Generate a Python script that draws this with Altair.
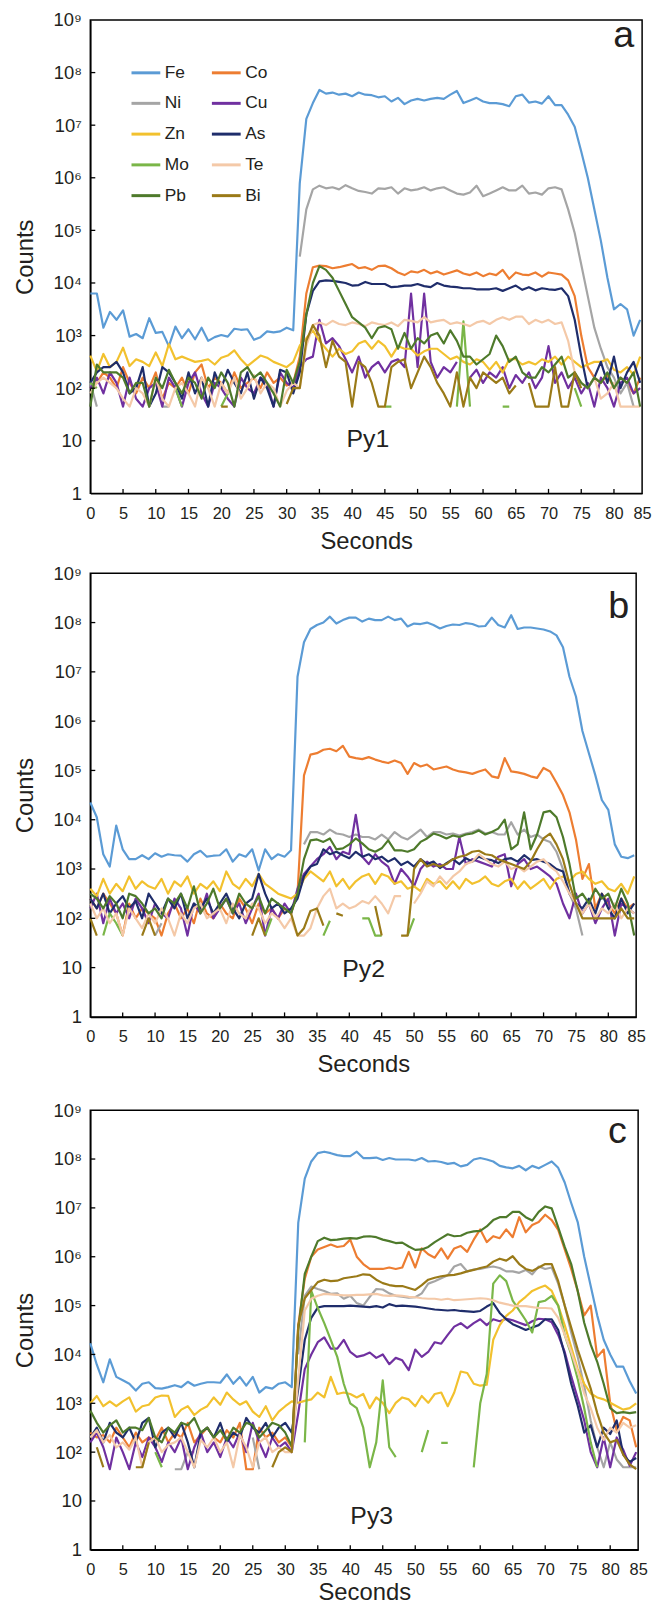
import altair as alt
import pandas as pd

N = None
ELEMENTS = ["Fe", "Co", "Ni", "Cu", "Zn", "As", "Mo", "Te", "Pb", "Bi"]
COLORS = ["#5B9BD5", "#ED7D31", "#A5A5A5", "#7030A0", "#F2C12E",
          "#1F2D6B", "#7AB648", "#F4C9A8", "#4E7A2B", "#9A7A18"]
TIME = list(range(85))                      # seconds
X_LABEL_VALUES = [0, 5, 10, 15, 20, 25, 30, 35, 40, 45, 50, 55, 60, 65, 70, 75, 80, 84.3]
X_TICK_MARKS = [5, 10, 15, 20, 25, 30, 35, 40, 45, 50, 55, 60, 65, 70, 75, 80]
Y_LABEL_VALUES = [1, 10, 1e2, 1e3, 1e4, 1e5, 1e6, 1e7, 1e8, 1e9]
Y_TICK_MARKS = [10, 1e2, 1e3, 1e4, 1e5, 1e6, 1e7, 1e8]

# values are log10(counts); None = no counts (gap)
# ---------------- Py1 (panel a) ----------------
FE_A = [3.80,3.80,3.15,3.45,3.30,3.48,2.98,3.03,2.95,3.33,
        3.05,3.07,2.80,3.17,2.95,3.12,2.93,3.15,2.90,2.97,
        3.01,2.98,3.13,3.11,3.12,2.92,2.97,3.08,3.06,3.08,
        3.15,3.10,5.90,7.12,7.42,7.67,7.60,7.62,7.58,7.60,
        7.55,7.62,7.58,7.57,7.53,7.55,7.45,7.52,7.40,7.47,
        7.50,7.47,7.50,7.52,7.50,7.58,7.65,7.42,7.47,7.52,
        7.45,7.42,7.42,7.40,7.36,7.55,7.58,7.43,7.45,7.41,
        7.55,7.38,7.38,7.20,6.97,6.50,6.00,5.40,4.80,4.10,
        3.50,3.60,3.50,3.00,3.30]
CO_A = [2.0,2.1,2.3,2.2,2.0,2.4,2.1,1.9,2.2,2.0,
        2.3,1.8,2.1,2.0,2.2,1.9,2.3,2.45,2.0,2.2,
        2.1,1.9,2.3,2.0,2.1,2.2,2.0,2.3,2.1,2.2,
        2.05,2.1,2.6,3.8,4.3,4.33,4.32,4.28,4.30,4.33,
        4.36,4.28,4.30,4.25,4.32,4.33,4.28,4.20,4.15,4.22,
        4.20,4.25,4.18,4.22,4.16,4.20,4.24,4.18,4.15,4.20,
        4.13,4.18,4.15,4.25,4.08,4.20,4.16,4.15,4.20,4.12,
        4.20,4.18,4.16,4.05,3.75,3.0,2.4,2.2,2.1,2.25,
        2.0,2.2,2.1,1.9,2.2]
NI_A = [2.1,1.65,N,N,N,N,N,N,N,N,
        N,1.65,1.65,N,N,N,N,N,N,N,
        N,N,N,N,N,N,N,N,N,N,
        N,N,4.5,5.4,5.78,5.85,5.80,5.82,5.78,5.86,
        5.80,5.75,5.73,5.70,5.80,5.79,5.82,5.70,5.80,5.76,
        5.78,5.82,5.76,5.80,5.82,5.76,5.70,5.68,5.72,5.85,
        5.65,5.70,5.76,5.82,5.76,5.76,5.85,5.70,5.72,5.68,
        5.80,5.82,5.78,5.40,4.95,4.35,3.75,3.15,2.75,2.4,
        2.2,1.9,2.1,1.65,N]
CU_A = [2.0,2.2,1.9,2.3,2.1,1.65,2.2,1.8,1.65,2.0,
        2.1,1.65,2.2,2.0,1.65,2.1,2.3,1.9,1.65,2.1,
        2.0,1.8,1.65,2.2,2.0,1.9,2.2,2.1,1.65,2.3,
        2.1,2.0,2.4,2.55,2.6,3.3,2.85,2.95,2.8,2.55,
        2.3,2.6,2.2,2.4,2.5,2.3,2.5,2.55,2.4,3.8,
        2.4,3.8,2.5,2.2,2.4,2.3,2.5,N,2.2,2.35,
        2.1,2.3,2.2,2.4,2.0,2.25,2.1,2.3,2.0,2.2,
        2.8,2.1,2.3,2.0,2.2,1.9,2.1,1.65,2.2,2.0,
        1.65,2.1,2.2,1.9,2.0]
ZN_A = [2.62,2.32,2.65,2.4,2.5,2.77,2.42,2.55,2.5,2.42,
        2.68,2.42,2.84,2.55,2.6,2.55,2.5,2.52,2.55,2.45,
        2.58,2.62,2.72,2.55,2.42,2.52,2.62,2.58,2.5,2.45,
        2.4,2.5,2.81,2.95,3.1,2.9,2.75,2.6,2.75,2.65,
        2.7,2.85,2.9,2.75,2.9,2.8,2.6,2.8,2.75,2.75,
        2.62,2.7,2.75,2.75,2.65,2.55,2.6,2.5,2.45,2.55,
        2.5,2.35,2.5,2.3,2.55,2.55,2.45,2.5,2.45,2.55,
        2.5,2.6,2.45,2.6,2.5,2.4,2.45,2.5,2.5,2.55,
        2.35,2.3,2.4,2.25,2.6]
AS_A = [2.1,2.3,2.4,2.4,2.5,2.3,1.9,2.0,2.4,1.65,
        1.9,2.4,2.3,2.1,1.8,2.3,1.9,2.2,1.65,2.3,
        2.0,2.35,2.1,1.9,2.3,1.8,2.2,2.0,1.65,2.35,
        2.3,1.9,2.3,3.4,3.85,4.03,4.05,4.04,4.02,4.00,
        3.95,3.96,4.02,3.98,3.98,3.98,3.92,3.93,3.95,3.95,
        3.98,3.94,3.92,4.00,3.95,3.93,3.92,3.90,3.90,3.88,
        3.88,3.88,3.90,3.85,3.90,3.95,3.87,3.92,3.86,3.90,
        3.88,3.87,3.90,3.75,3.3,2.6,2.0,2.2,2.5,2.1,
        2.6,2.0,2.3,2.5,2.1]
MO_A = [2.1,2.0,N,N,N,N,N,N,N,N,
        N,N,N,2.0,1.65,N,N,N,N,N,
        1.65,1.9,N,N,N,N,N,N,N,N,
        N,N,N,N,N,N,N,N,N,N,
        N,N,N,N,N,1.65,1.65,N,N,N,
        N,N,N,N,N,N,1.65,3.27,1.65,N,
        N,N,N,1.65,1.65,N,N,N,N,N,
        N,N,N,N,2.0,1.65,N,N,N,N,
        N,N,N,N,N]
TE_A = [1.9,2.1,2.2,2.1,2.0,1.8,1.65,2.0,1.9,1.65,
        2.2,1.8,1.65,2.0,2.1,1.9,1.65,2.2,2.0,1.65,
        2.1,1.9,2.2,1.8,2.0,2.25,1.9,2.1,2.0,1.65,
        1.95,2.1,2.0,2.8,3.2,3.25,3.20,3.28,3.22,3.20,
        3.25,3.22,3.18,3.25,3.22,3.20,3.25,3.18,3.30,3.28,
        3.25,3.35,3.25,3.28,3.30,3.22,3.25,3.22,3.18,3.25,
        3.28,3.22,3.30,3.35,3.30,3.36,3.36,3.22,3.30,3.25,
        3.30,3.22,3.25,2.9,2.3,2.1,2.0,2.2,1.8,1.9,
        2.1,1.65,1.65,1.65,1.65]
PB_A = [1.65,2.45,2.3,2.3,2.3,2.2,1.9,2.1,2.1,1.65,
        2.2,2.0,2.35,2.1,1.9,2.2,2.1,1.8,2.2,2.0,
        2.3,2.1,1.65,2.3,2.4,2.2,2.3,2.1,1.9,1.65,
        2.35,2.1,2.5,3.4,4.0,4.32,4.25,4.1,3.85,3.6,
        3.35,3.25,3.15,2.95,3.15,3.18,3.12,2.75,3.05,2.75,
        2.95,2.85,3.0,3.05,2.85,3.1,2.9,2.6,2.6,2.45,
        2.55,2.65,3.0,2.8,2.5,2.6,2.3,2.2,2.2,2.4,
        2.3,2.45,2.6,2.2,2.3,2.1,2.0,2.2,2.1,2.3,
        2.0,2.2,2.1,2.3,1.65]
BI_A = [N,N,N,N,N,N,N,N,N,N,
        N,N,N,N,N,N,N,N,N,N,
        1.65,1.65,N,N,N,N,N,N,N,N,
        1.7,2.0,2.0,2.9,3.2,3.0,2.4,2.9,2.6,2.5,
        1.65,2.5,2.4,2.1,1.65,1.65,2.4,2.5,2.55,2.0,
        2.3,2.6,2.4,2.1,1.9,1.65,2.3,1.65,2.2,2.0,
        2.3,2.2,2.1,2.2,1.9,2.05,N,2.1,1.65,1.65,
        1.65,2.4,1.65,1.65,2.3,2.0,N,N,N,N,
        N,N,N,N,N]

# ---------------- Py2 (panel b) ----------------
FE_B = [4.35,4.05,3.3,3.05,3.88,3.4,3.2,3.2,3.28,3.2,
        3.32,3.25,3.3,3.28,3.27,3.15,3.3,3.37,3.25,3.27,
        3.28,3.4,3.15,3.3,3.25,3.4,2.97,3.4,3.2,3.3,
        3.25,3.38,6.9,7.6,7.87,7.95,8.0,8.12,7.98,8.05,
        8.1,8.1,8.02,8.08,8.05,8.05,8.12,8.05,8.08,7.92,
        7.98,7.97,8.0,7.95,7.88,7.93,7.96,7.95,7.99,7.97,
        7.92,7.93,8.1,7.95,7.9,8.15,7.87,7.9,7.9,7.88,
        7.86,7.82,7.74,7.5,6.9,6.5,5.8,5.35,4.9,4.4,
        4.2,3.5,3.25,3.22,3.28]
CO_B = [2.4,2.2,2.5,2.3,2.1,1.65,2.3,2.0,2.2,2.1,
        2.0,1.65,2.1,2.3,2.0,2.2,1.9,2.4,2.1,2.0,
        2.3,2.1,2.0,2.4,2.2,1.9,2.3,2.1,2.2,2.0,
        2.2,2.1,2.5,4.9,5.32,5.35,5.42,5.44,5.39,5.5,
        5.28,5.25,5.23,5.27,5.22,5.18,5.15,5.2,5.15,4.93,
        5.15,5.08,5.12,5.02,5.05,5.08,5.02,4.98,4.96,4.93,
        4.98,5.02,4.88,4.85,5.25,4.98,4.96,4.93,4.88,4.85,
        5.05,4.98,4.75,4.5,4.15,3.6,2.8,3.1,2.2,2.5,
        2.3,2.1,2.4,2.2,2.3]
NI_B = [N,N,N,N,N,N,N,N,N,N,
        1.65,1.9,N,N,N,N,N,N,N,N,
        N,N,N,N,N,N,N,N,N,N,
        N,N,N,3.5,3.75,3.75,3.7,3.8,3.72,3.7,
        3.65,3.7,3.65,3.65,3.6,3.7,3.6,3.75,3.65,3.6,
        3.7,3.8,3.65,3.75,3.75,3.7,3.72,3.68,3.72,3.75,
        3.8,3.72,3.75,3.7,3.7,3.95,3.7,3.8,3.65,3.7,
        3.6,3.55,3.35,3.0,2.5,2.2,1.65,N,N,N,
        N,N,N,N,N]
CU_B = [2.2,2.5,1.9,2.4,2.1,2.3,2.0,2.4,2.2,1.9,
        2.3,2.1,2.0,2.4,2.2,1.65,2.3,2.1,2.5,2.0,
        2.2,2.4,2.1,2.3,1.9,2.2,2.5,1.65,2.2,2.0,
        2.3,2.1,2.6,2.9,3.05,3.2,3.3,3.45,3.2,3.35,
        3.3,4.1,3.25,3.1,3.3,3.15,3.05,2.7,3.0,2.85,
        2.65,3.0,3.15,3.05,3.1,3.0,3.0,3.65,3.1,3.2,
        3.15,3.1,3.05,3.25,3.3,2.65,3.1,3.2,3.0,3.05,
        2.95,2.85,2.7,2.3,2.0,2.5,2.1,2.3,1.9,2.2,
        2.4,1.65,2.3,2.2,2.1]
ZN_B = [2.6,2.45,2.8,2.5,2.7,2.55,2.85,2.6,2.75,2.65,
        2.6,2.8,2.5,2.75,2.65,2.85,2.5,2.7,2.6,2.75,
        2.55,2.95,2.7,2.6,2.8,2.65,2.9,2.7,2.6,2.5,
        2.45,2.4,2.5,2.8,2.95,2.85,2.75,2.95,2.65,2.8,
        2.6,2.75,2.85,2.9,2.7,2.9,2.85,2.7,2.75,2.6,
        2.65,2.55,2.8,2.7,2.75,2.6,2.75,2.6,2.8,2.7,
        2.75,2.85,2.7,2.65,2.75,2.8,2.6,2.75,2.6,2.7,
        2.8,2.6,2.8,2.85,2.75,2.9,2.95,2.8,2.7,2.75,
        2.6,2.55,2.7,2.5,2.85]
AS_B = [2.4,2.2,2.5,2.1,2.3,2.45,2.2,2.35,2.0,2.5,
        2.3,2.1,2.4,2.2,2.5,2.0,2.3,2.2,2.4,2.1,
        2.3,2.5,2.2,2.0,2.3,2.4,2.9,2.5,2.2,2.3,
        2.1,2.2,2.4,2.85,3.05,3.1,3.4,3.3,3.35,3.28,
        3.22,3.35,3.25,3.3,3.2,3.25,3.15,3.22,3.08,3.15,
        3.05,3.2,3.1,3.15,3.02,3.12,3.2,3.1,3.22,3.15,
        3.25,3.2,3.18,3.12,3.2,3.22,3.15,3.28,3.18,3.2,
        3.15,3.1,3.0,2.95,2.5,2.3,2.2,2.4,2.1,2.5,
        2.2,2.0,2.4,2.1,2.3]
MO_B = [N,N,1.65,2.1,1.9,1.65,N,N,N,N,
        N,N,N,N,N,N,N,N,N,N,
        N,N,N,N,N,N,N,1.65,2.0,N,
        N,N,N,N,N,N,1.65,1.95,N,N,
        N,N,2.0,2.0,1.65,1.65,N,N,N,1.65,
        2.0,N,N,N,N,N,N,N,N,N,
        N,N,N,N,N,N,N,N,N,N,
        N,N,N,N,N,N,N,N,N,N,
        N,N,N,N,N]
TE_B = [2.3,2.0,2.2,1.9,2.1,1.65,2.2,2.0,1.8,2.1,
        1.9,2.2,2.0,1.65,2.1,1.9,2.2,2.3,2.0,2.1,
        2.2,1.9,2.3,2.1,2.0,2.3,2.2,1.9,2.1,2.0,
        1.8,2.0,1.65,1.65,1.8,2.2,2.45,2.6,2.2,2.3,
        2.2,2.25,2.35,2.3,2.45,2.3,2.1,2.45,2.45,N,
        2.3,2.5,2.75,2.65,2.85,2.7,2.85,2.95,3.1,3.15,
        3.3,3.2,3.1,3.05,3.15,3.0,3.05,2.95,3.05,3.15,
        3.2,3.05,2.95,2.75,2.5,2.3,2.1,2.3,2.0,2.2,
        2.1,2.3,2.0,2.2,2.1]
PB_B = [2.5,2.4,2.2,2.45,2.3,2.0,2.5,2.45,2.3,2.1,
        2.2,2.0,2.4,2.3,2.5,2.2,2.65,2.1,2.3,2.6,
        2.2,2.4,2.1,2.5,2.3,2.2,2.45,2.1,2.4,2.3,
        2.2,2.1,2.5,3.2,3.58,3.6,3.55,3.62,3.4,3.42,
        3.5,3.62,3.52,3.4,3.35,3.42,3.58,3.38,3.38,3.35,
        3.4,3.55,3.62,3.72,3.68,3.62,3.68,3.65,3.7,3.72,
        3.78,3.7,3.75,3.82,4.0,3.4,3.5,4.15,3.4,3.7,
        4.15,4.18,4.05,3.65,3.1,2.4,2.5,2.3,2.6,2.4,
        2.5,2.2,2.6,2.3,1.65]
BI_B = [2.0,1.65,N,N,N,N,N,N,1.65,2.0,
        1.65,N,N,N,N,N,N,N,N,N,
        N,N,N,N,N,1.65,2.0,1.65,N,N,
        N,2.1,1.65,1.8,2.15,2.2,1.85,N,2.1,2.05,
        N,N,N,N,2.25,1.65,N,N,1.65,1.65,
        3.0,3.2,3.05,3.1,3.05,3.1,3.2,3.25,3.28,3.35,
        3.37,3.3,3.28,3.2,3.15,3.1,3.05,3.0,3.15,3.4,
        3.62,3.72,3.5,3.2,2.7,2.3,2.0,2.0,2.0,2.0,
        2.0,2.0,2.2,2.0,2.0]

# ---------------- Py3 (panel c) ----------------
FE_C = [4.23,3.79,3.43,3.9,3.54,3.47,3.4,3.26,3.4,3.43,
        3.31,3.3,3.33,3.37,3.33,3.44,3.36,3.4,3.43,3.43,
        3.42,3.59,3.4,3.54,3.36,3.54,3.22,3.33,3.3,3.4,
        3.43,3.33,6.7,7.6,7.95,8.12,8.15,8.12,8.08,8.06,
        8.06,8.15,8.02,8.02,8.03,7.98,8.02,7.99,7.99,7.99,
        7.97,8.02,7.95,7.96,7.94,7.9,7.92,7.85,7.88,7.99,
        8.02,7.99,7.95,7.86,7.83,7.81,7.86,7.77,7.86,7.81,
        7.88,7.95,7.82,7.52,7.1,6.71,6.0,5.4,4.8,4.3,
        4.0,3.75,3.75,3.45,3.2]
CO_C = [2.4,2.3,2.35,2.2,2.5,2.3,2.1,2.4,2.2,2.3,
        2.25,2.5,2.2,2.4,2.3,2.6,2.2,2.35,2.5,2.3,
        2.2,2.45,2.3,2.6,1.65,1.65,2.5,2.3,2.4,2.2,
        2.3,2.1,4.6,5.55,6.0,6.15,6.2,6.25,6.2,6.22,
        6.35,6.0,5.85,5.75,5.75,5.75,5.78,5.75,5.78,6.1,
        5.78,6.17,6.05,5.98,6.17,5.96,6.17,6.22,6.1,6.35,
        6.56,6.3,6.42,6.38,6.56,6.4,6.81,6.5,6.65,6.71,
        6.86,6.75,6.55,6.15,5.75,5.3,4.8,5.0,3.95,4.1,
        3.0,2.45,2.72,2.65,2.1]
NI_C = [N,N,N,N,N,N,N,N,N,N,
        N,N,N,1.65,1.65,2.0,2.0,N,N,N,
        N,N,N,N,N,2.3,1.65,N,N,N,
        N,N,4.0,5.2,5.39,5.34,5.3,5.24,5.25,5.14,
        5.2,5.05,5.0,5.18,5.34,5.33,5.25,5.2,5.18,5.16,
        5.17,5.25,5.45,5.5,5.56,5.62,5.8,5.85,5.7,5.74,
        5.75,5.78,5.8,5.77,5.7,5.7,5.67,5.73,5.64,5.8,
        5.75,5.78,5.45,5.0,4.45,3.95,3.35,2.65,2.1,1.69,
        2.2,1.85,1.69,1.69,1.69]
CU_C = [2.2,2.4,2.1,1.65,2.3,2.0,1.65,2.2,1.9,2.3,
        2.1,1.8,2.2,2.0,2.3,1.65,2.1,2.4,2.0,2.2,
        1.9,2.3,2.1,2.4,2.0,2.6,2.2,1.9,2.3,2.1,
        2.2,2.0,2.8,3.7,4.0,4.25,4.35,4.12,4.12,4.3,
        4.05,3.95,3.98,4.04,3.93,4.0,3.8,3.93,3.88,3.68,
        4.1,3.95,4.05,4.25,4.22,4.4,4.57,4.64,4.54,4.64,
        4.72,4.6,4.72,4.68,4.73,4.7,4.65,4.6,4.68,4.73,
        4.72,4.66,4.4,4.05,3.55,3.1,2.65,2.0,1.69,2.3,
        1.69,2.3,2.05,1.72,2.0]
ZN_C = [3.0,3.15,2.94,3.04,2.94,3.04,3.12,2.83,2.94,2.97,
        3.12,3.16,3.15,2.72,2.87,2.94,2.76,2.87,2.94,3.12,
        2.97,3.22,3.08,2.97,3.04,2.83,2.72,2.94,2.65,2.83,
        2.94,3.04,3.01,3.05,3.08,3.22,3.12,3.54,3.19,3.22,
        3.19,3.12,3.19,2.9,3.12,3.01,2.8,3.01,3.12,3.08,
        2.94,3.15,3.01,3.19,3.22,2.94,3.22,3.65,3.62,3.4,
        3.36,3.38,4.3,4.6,4.79,4.9,5.07,5.18,5.3,5.36,
        5.41,5.3,5.0,4.6,4.15,3.7,3.4,3.2,3.12,3.08,
        3.01,2.94,2.87,2.9,3.0]
AS_C = [2.3,2.5,2.2,2.6,2.4,2.3,2.5,2.2,2.6,2.7,
        2.1,2.4,2.5,2.3,2.6,2.2,1.69,2.4,2.5,2.3,
        2.6,2.2,2.4,2.3,2.7,2.5,2.4,2.6,2.3,2.5,
        2.6,2.4,3.3,4.3,4.75,4.96,4.99,4.99,4.99,4.99,
        5.0,4.99,4.98,4.97,4.99,4.96,5.03,4.99,5.0,4.99,
        4.98,4.96,4.94,4.92,4.91,4.9,4.91,4.89,4.88,4.87,
        4.89,4.98,5.05,4.85,4.72,4.62,4.56,4.5,4.55,4.6,
        4.72,4.72,4.5,4.0,3.4,2.95,2.4,2.55,2.1,2.5,
        2.37,2.65,1.95,1.8,1.88]
MO_C = [N,N,N,N,N,N,N,N,N,N,
        2.0,1.69,N,N,N,N,N,N,N,N,
        N,N,N,N,N,N,N,N,N,N,
        N,N,N,2.2,5.3,4.95,4.64,4.3,3.95,3.4,
        3.0,2.9,2.5,1.69,2.2,3.47,2.1,1.9,N,N,
        N,2.0,2.45,N,2.19,2.19,N,N,N,1.69,
        3.0,3.6,5.45,5.62,5.5,5.1,4.9,4.7,4.45,5.07,
        5.1,5.2,5.0,4.4,4.0,3.5,2.9,2.2,1.69,N,
        N,N,N,N,N]
TE_C = [2.3,2.45,2.2,2.35,2.1,2.2,2.05,2.3,1.69,2.2,
        2.3,2.0,2.15,2.2,2.3,2.0,1.69,2.25,2.1,2.3,
        2.0,2.2,1.69,2.35,2.1,1.69,2.2,2.3,2.0,2.1,
        2.0,2.0,3.5,4.9,5.14,5.2,5.24,5.23,5.22,5.21,
        5.21,5.22,5.22,5.23,5.24,5.21,5.2,5.21,5.2,5.18,
        5.17,5.15,5.14,5.14,5.12,5.14,5.11,5.12,5.13,5.14,
        5.15,5.14,5.11,5.06,5.03,5.0,4.99,4.99,4.97,4.95,
        4.95,4.94,4.75,4.4,4.05,3.65,3.2,2.9,2.5,2.25,
        2.5,2.4,2.6,2.5,2.55]
PB_C = [2.85,2.6,2.4,2.55,2.65,2.4,2.5,2.5,2.45,2.7,
        2.3,2.2,2.5,2.4,2.6,2.55,2.7,2.4,2.5,2.3,
        2.45,2.25,2.5,2.4,2.6,2.55,2.3,2.45,2.6,2.55,
        2.4,2.12,4.5,5.65,6.0,6.32,6.39,6.34,6.35,6.37,
        6.38,6.37,6.41,6.42,6.4,6.35,6.32,6.28,6.29,6.21,
        6.14,6.15,6.2,6.3,6.38,6.46,6.42,6.43,6.49,6.52,
        6.53,6.62,6.75,6.81,6.81,6.92,6.92,6.81,6.74,6.92,
        7.03,6.99,6.6,6.2,5.85,5.3,4.65,4.2,3.85,3.4,
        2.9,2.8,2.82,2.8,2.82]
BI_C = [N,2.1,1.69,N,N,N,N,1.69,1.69,2.2,
        N,N,N,N,N,N,N,N,N,N,
        N,N,N,N,N,N,N,N,1.69,2.0,
        2.1,2.0,4.6,5.15,5.32,5.48,5.53,5.5,5.51,5.56,
        5.58,5.6,5.64,5.63,5.53,5.46,5.42,5.4,5.4,5.36,
        5.32,5.42,5.53,5.57,5.6,5.62,5.63,5.66,5.7,5.73,
        5.77,5.8,5.9,5.96,5.92,6.01,5.85,5.75,5.71,5.78,
        5.85,5.85,5.5,5.0,4.55,4.1,3.7,3.3,2.8,2.4,
        2.2,2.25,1.95,1.75,1.65]

PANEL_A = dict(Fe=FE_A, Co=CO_A, Ni=NI_A, Cu=CU_A, Zn=ZN_A, As=AS_A, Mo=MO_A, Te=TE_A, Pb=PB_A, Bi=BI_A)
PANEL_B = dict(Fe=FE_B, Co=CO_B, Ni=NI_B, Cu=CU_B, Zn=ZN_B, As=AS_B, Mo=MO_B, Te=TE_B, Pb=PB_B, Bi=BI_B)
PANEL_C = dict(Fe=FE_C, Co=CO_C, Ni=NI_C, Cu=CU_C, Zn=ZN_C, As=AS_C, Mo=MO_C, Te=TE_C, Pb=PB_C, Bi=BI_C)

LETTERS = ["a", "b", "c"]
LETTER_T = [81.5, 81.6, 81.1]
LETTER_LOG = [8.70, 8.32, 8.55]
SAMPLES = ["Py1", "Py2", "Py3"]
SAMPLE_T = [42.4, 42.2, 43.3]
SAMPLE_LOG = [1.03, 0.98, 0.70]

FONT = "Liberation Sans"
INK = "#231F20"


def long_frame(series):
    rows = []
    for el in ELEMENTS:
        vals = series[el]
        assert len(vals) == len(TIME), (el, len(vals))
        for t, lv in zip(TIME, vals):
            rows.append({"t": t, "el": el, "v": None if lv is None else 10 ** lv})
    return pd.DataFrame(rows)


Y_LABEL_EXPR = ("datum.value < 5 ? '1' : datum.value < 50 ? '10' : '10' + "
                "substring('⁰¹²³⁴⁵⁶⁷⁸⁹', round(log(datum.value)/LN10), round(log(datum.value)/LN10) + 1)")


def panel(i, series, width, height, title_pad, show_legend):
    df = long_frame(series)
    xs = alt.Scale(domain=[0, 84.3], nice=False, zero=False)
    ys = alt.Scale(type="log", domain=[1, 1e9], nice=False)
    xaxis = alt.Axis(values=X_LABEL_VALUES, labelExpr="datum.value > 84 ? '85' : datum.label",
                     title="Seconds", ticks=False, grid=False, labelFlush=False,
                     labelOverlap=False, labelPadding=12, titlePadding=title_pad,
                     labelFontSize=16.5, titleFontSize=24)
    yaxis = alt.Axis(values=Y_LABEL_VALUES, labelExpr=Y_LABEL_EXPR, title="Counts",
                     ticks=False, grid=False, labelFlush=False, labelOverlap=False,
                     labelPadding=9, titlePadding=16, labelFontSize=18.5, titleFontSize=24)
    X = alt.X("t:Q", scale=xs, axis=xaxis)
    Y = alt.Y("v:Q", scale=ys, axis=yaxis)

    if show_legend:
        legend = alt.Legend(orient="none", legendX=40, legendY=37, columns=2,
                            direction="horizontal",
                            symbolType="stroke", symbolSize=841, symbolStrokeWidth=3,
                            labelFontSize=17.5, labelFont=FONT, labelColor=INK, title=None,
                            rowPadding=6, columnPadding=16, labelOffset=3, padding=0)
    else:
        legend = None

    lines = alt.Chart(df).mark_line(strokeWidth=2.2, strokeJoin="round",
                                    invalid="break-paths-filter-domains").encode(
        x=X, y=Y,
        color=alt.Color("el:N", scale=alt.Scale(domain=ELEMENTS, range=COLORS),
                        sort=ELEMENTS, legend=legend),
    )
    xt = alt.Chart(pd.DataFrame({"t": X_TICK_MARKS})).mark_rule(color="black", strokeWidth=1.3).encode(
        x=X, y=alt.value(height), y2=alt.value(height - 4.5))
    yt = alt.Chart(pd.DataFrame({"v": Y_TICK_MARKS})).mark_rule(color="black", strokeWidth=1.3).encode(
        y=Y, x=alt.value(0), x2=alt.value(5))
    letter = alt.Chart(pd.DataFrame({"t": [LETTER_T[i]], "v": [10 ** LETTER_LOG[i]],
                                     "label": [LETTERS[i]]})).mark_text(
        font=FONT, fontSize=38, color=INK, align="center", baseline="middle").encode(
        x=X, y=Y, text="label:N")
    sample = alt.Chart(pd.DataFrame({"t": [SAMPLE_T[i]], "v": [10 ** SAMPLE_LOG[i]],
                                     "label": [SAMPLES[i]]})).mark_text(
        font=FONT, fontSize=25, color=INK, align="center", baseline="middle").encode(
        x=X, y=Y, text="label:N")
    return alt.layer(lines, xt, yt, letter, sample).properties(width=width, height=height)


pa = panel(0, PANEL_A, 556, 477, 8, True)
pb = panel(1, PANEL_B, 550, 447, 8, False)
pc = panel(2, PANEL_C, 552, 443, 3, False)

top = alt.vconcat(pa, pb, spacing=8.5).resolve_scale(color="independent").resolve_legend(color="independent")
chart = alt.vconcat(top, pc, spacing=22.5).resolve_scale(color="independent").resolve_legend(
    color="independent").properties(
    padding={"left": 12, "top": 4, "right": 5, "bottom": 0}, background="white"
).configure_view(stroke="black", strokeWidth=1.5).configure_axis(
    domainColor="black", domainWidth=1.5, labelFont=FONT, titleFont=FONT,
    labelColor=INK, titleColor=INK, titleFontWeight="normal")

chart.save("out.html", embed_options={"renderer": "svg", "actions": False})
